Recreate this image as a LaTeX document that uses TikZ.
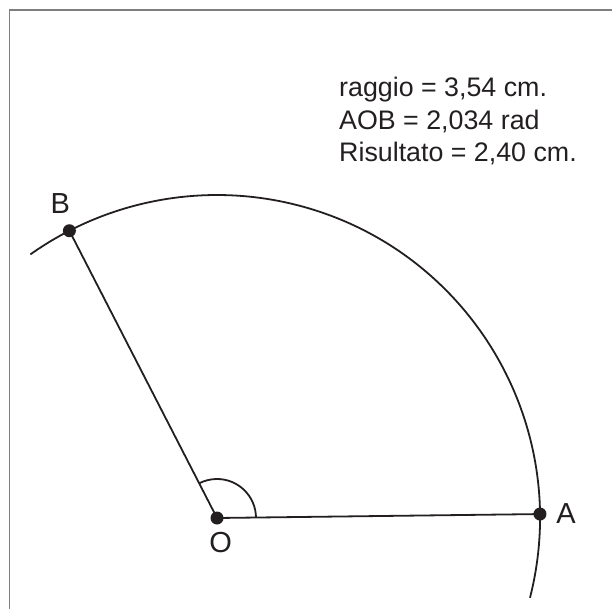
\documentclass[tikz,border=0pt]{standalone}
\usepackage{fontspec}
\setmainfont{Liberation Sans}
\definecolor{ink}{HTML}{231F20}
\definecolor{frame}{HTML}{7F7F7F}
\tikzset{
  segm/.style={ink,line width=1.8pt},
  pt/.style={fill=ink},
  lab/.style={font=\fontsize{29}{29}\selectfont,text=ink}
}
\begin{document}
\begin{tikzpicture}[x=1pt,y=1pt]
\useasboundingbox (0,0) rectangle (612,608);
\draw[frame,line width=1.6pt] (9.5,-2)--(9.5,598)--(614,598);
\coordinate (O) at (217,90);
\coordinate (A) at ([shift={(0.7:323)}]O);
\coordinate (B) at ([shift={(117.2:323)}]O);
\draw[segm] ([shift={(-14.3:323)}]O) arc[start angle=-14.3,end angle=125.3,radius=323];
\draw[segm] (O)--(A); \draw[segm] (O)--(B);
\draw[segm] ([shift={(0.7:39)}]O) arc[start angle=0.7,end angle=117.2,radius=39];
\fill[pt] (O) circle (6.5); \fill[pt] (A) circle (6.5); \fill[pt] (B) circle (6.5);
\node[lab] (labO) at ([shift={(3.7,-25)}]O) {O};
\node[lab] (labA) at ([shift={(26,1)}]A) {A};
\node[lab] (labB) at ([shift={(-9,27)}]B) {B};
\node[anchor=base west,align=left,inner sep=0pt,text=ink,font=\fontsize{26.8}{32.5}\selectfont] (res) at (339,446.3)
  {raggio = 3,54 cm.\\AOB = 2,034 rad\\Risultato = 2,40 cm.};
\end{tikzpicture}
\end{document}
